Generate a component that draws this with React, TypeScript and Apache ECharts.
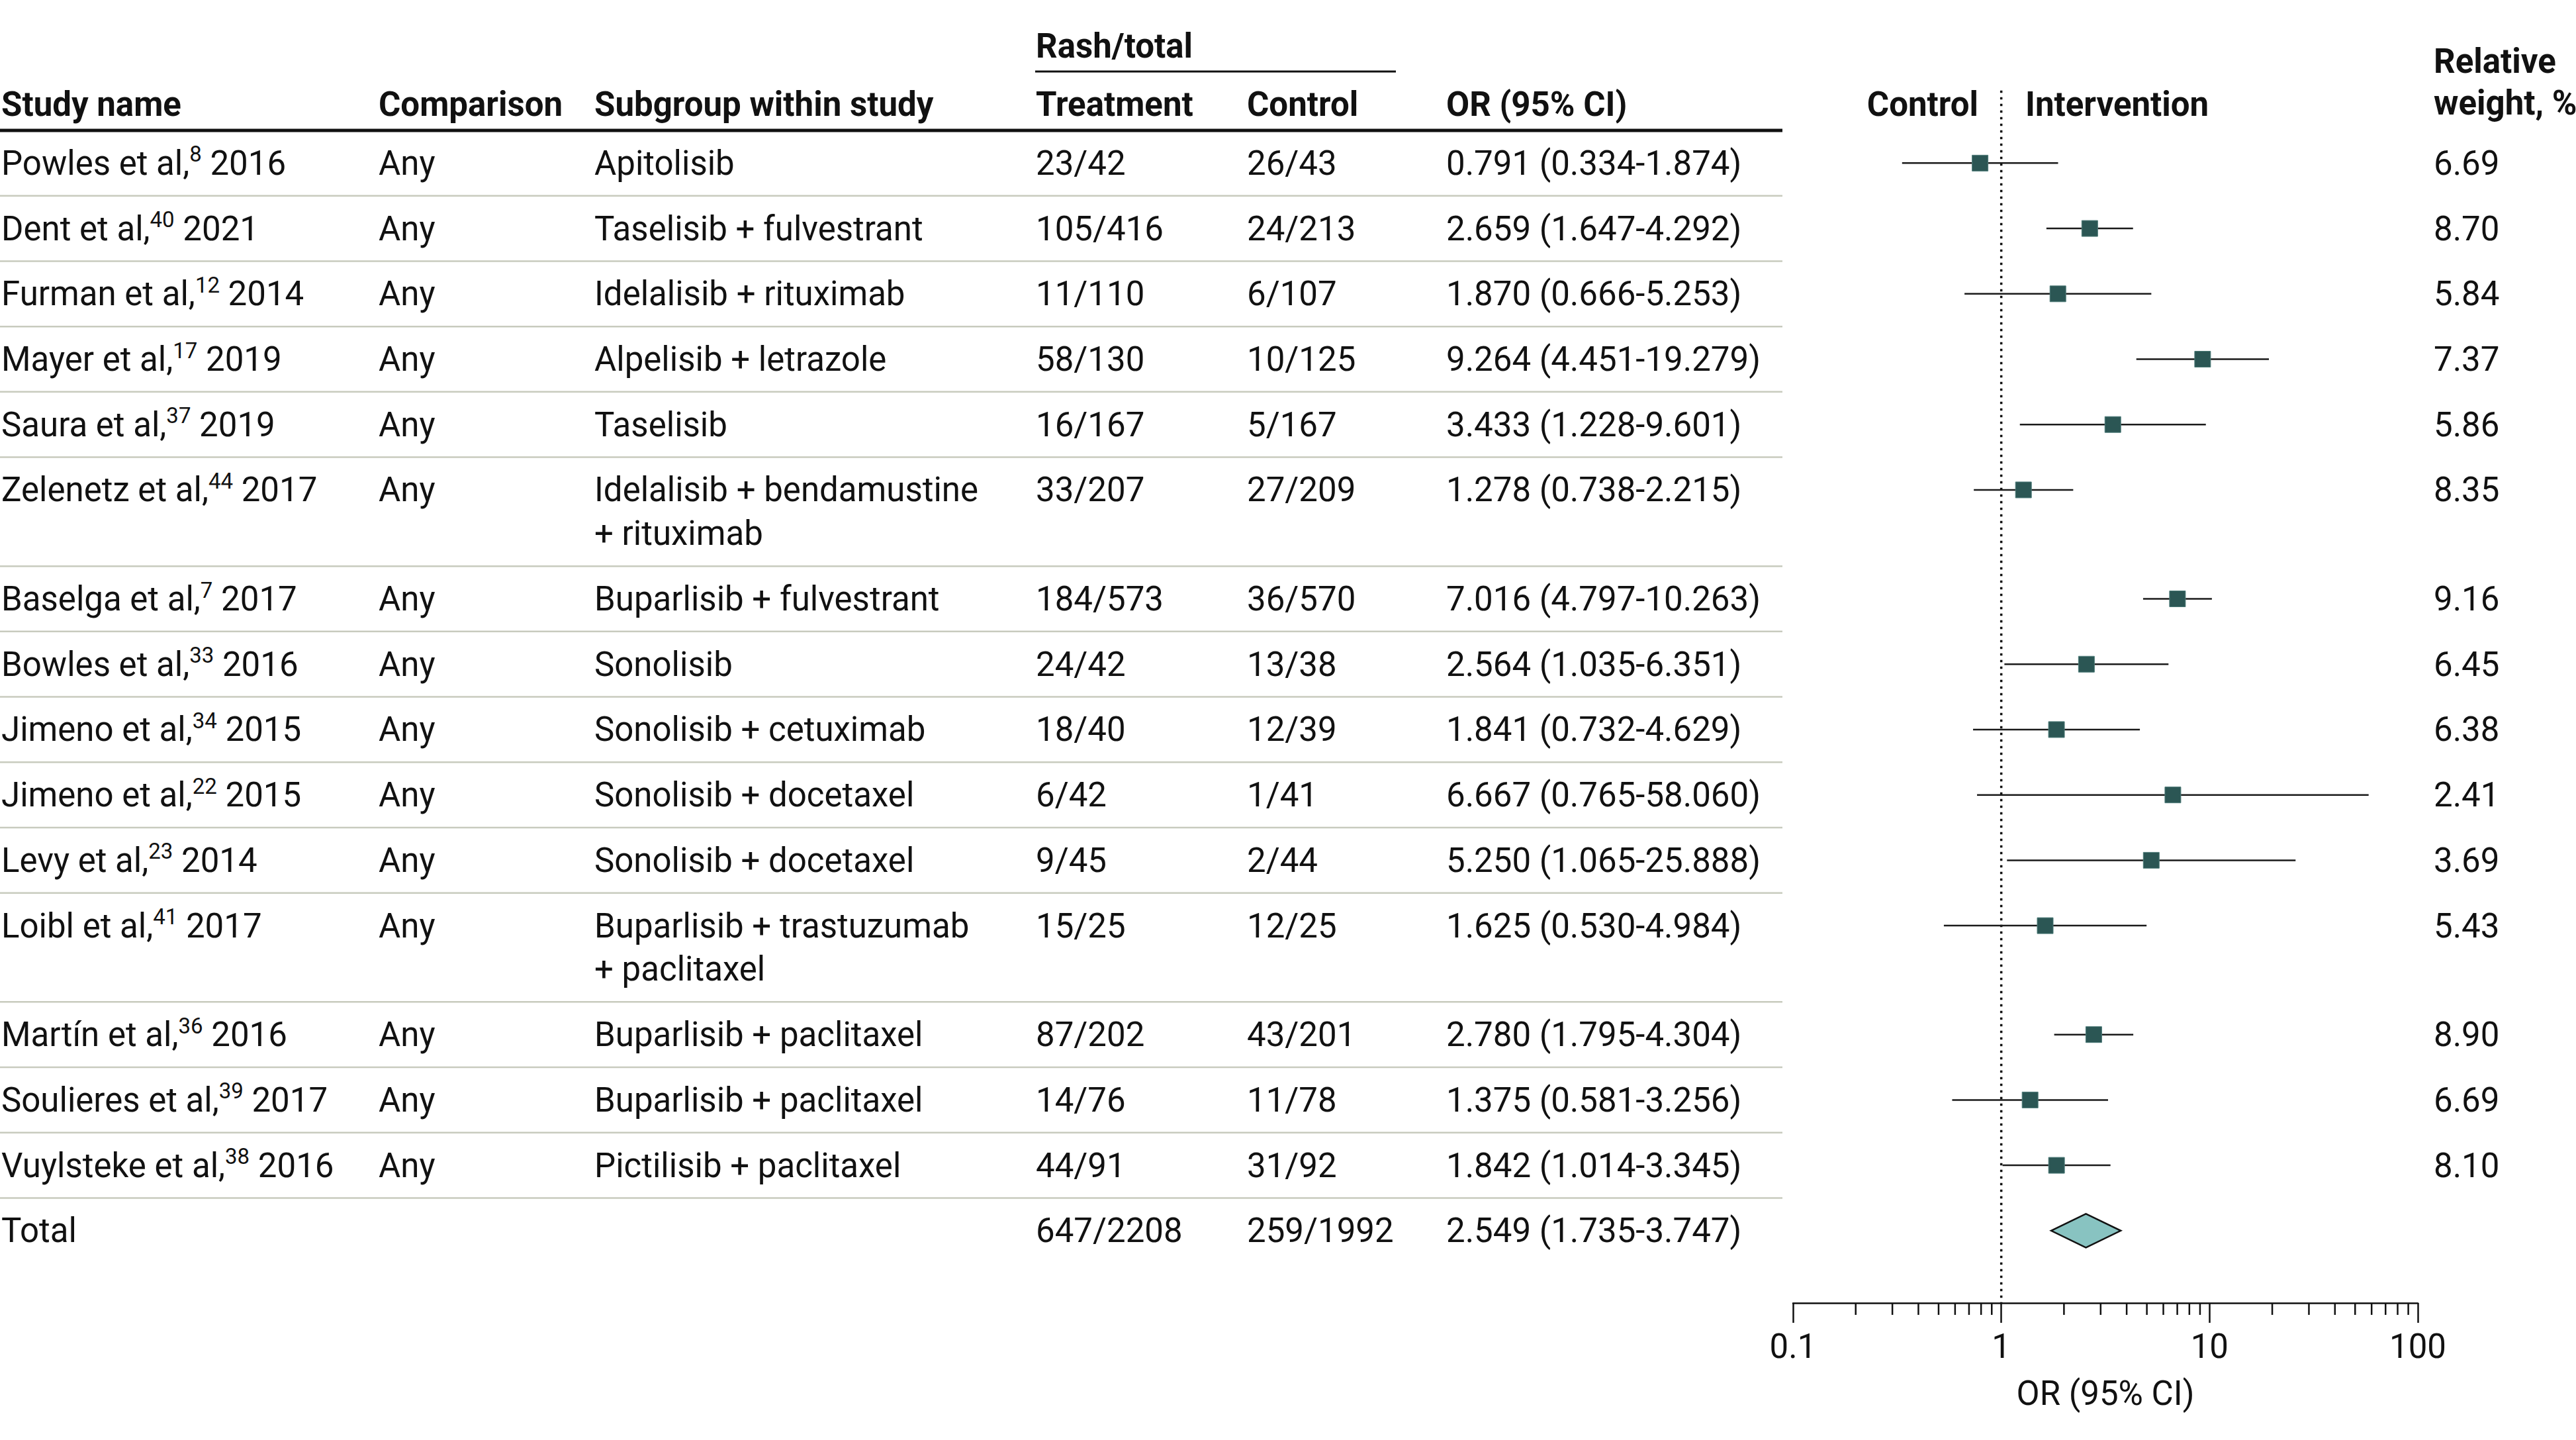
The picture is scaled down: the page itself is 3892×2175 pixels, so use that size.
import React, { useEffect, useRef } from "react";
import * as echarts from "echarts";

// ---------------- data ----------------
const studyNames = [
  "Powles et al,", "Dent et al,", "Furman et al,", "Mayer et al,", "Saura et al,",
  "Zelenetz et al,", "Baselga et al,", "Bowles et al,", "Jimeno et al,", "Jimeno et al,",
  "Levy et al,", "Loibl et al,", "Martín et al,", "Soulieres et al,", "Vuylsteke et al,",
];
const studyRefs = ["8", "40", "12", "17", "37", "44", "7", "33", "34", "22", "23", "41", "36", "39", "38"];
const studyYears = ["2016", "2021", "2014", "2019", "2019", "2017", "2017", "2016", "2015", "2015", "2014", "2017", "2016", "2017", "2016"];
const comparisons = ["Any", "Any", "Any", "Any", "Any", "Any", "Any", "Any", "Any", "Any", "Any", "Any", "Any", "Any", "Any"];
const subgroupLine1 = [
  "Apitolisib", "Taselisib + fulvestrant", "Idelalisib + rituximab", "Alpelisib + letrazole", "Taselisib",
  "Idelalisib + bendamustine", "Buparlisib + fulvestrant", "Sonolisib", "Sonolisib + cetuximab", "Sonolisib + docetaxel",
  "Sonolisib + docetaxel", "Buparlisib + trastuzumab", "Buparlisib + paclitaxel", "Buparlisib + paclitaxel", "Pictilisib + paclitaxel",
];
const subgroupLine2 = ["", "", "", "", "", "+ rituximab", "", "", "", "", "", "+ paclitaxel", "", "", ""];
const treatmentRash = ["23/42", "105/416", "11/110", "58/130", "16/167", "33/207", "184/573", "24/42", "18/40", "6/42", "9/45", "15/25", "87/202", "14/76", "44/91"];
const controlRash = ["26/43", "24/213", "6/107", "10/125", "5/167", "27/209", "36/570", "13/38", "12/39", "1/41", "2/44", "12/25", "43/201", "11/78", "31/92"];
const oddsRatio = [0.791, 2.659, 1.870, 9.264, 3.433, 1.278, 7.016, 2.564, 1.841, 6.667, 5.250, 1.625, 2.780, 1.375, 1.842];
const ciLower = [0.334, 1.647, 0.666, 4.451, 1.228, 0.738, 4.797, 1.035, 0.732, 0.765, 1.065, 0.530, 1.795, 0.581, 1.014];
const ciUpper = [1.874, 4.292, 5.253, 19.279, 9.601, 2.215, 10.263, 6.351, 4.629, 58.060, 25.888, 4.984, 4.304, 3.256, 3.345];
const relativeWeight = ["6.69", "8.70", "5.84", "7.37", "5.86", "8.35", "9.16", "6.45", "6.38", "2.41", "3.69", "5.43", "8.90", "6.69", "8.10"];

const totalLabel = "Total";
const totalTreatment = "647/2208";
const totalControl = "259/1992";
const totalOR = 2.549;
const totalLower = 1.735;
const totalUpper = 3.747;

const axisTickValues = [0.1, 1, 10, 100];
const axisTickLabels = ["0.1", "1", "10", "100"];
const minorTickValues = [0.2, 0.3, 0.4, 0.5, 0.6, 0.7, 0.8, 0.9, 2, 3, 4, 5, 6, 7, 8, 9, 20, 30, 40, 50, 60, 70, 80, 90];

// ---------------- layout / style ----------------
const W = 3892;
const H = 2175;
const FONT = "Roboto, 'Noto Sans', 'DejaVu Sans', sans-serif";
const FS = 51;
const TEXT = "#111111";
const GRID_LEFT = 2709;
const GRID_RIGHT_X = 3653;
const GRID_TOP = 197;
const AXIS_Y = 1968;
const Y_MAX = 17.94; // rows units (one single-line row = 1)
const EXTRA_LINE = 0.667;
const SECOND_LINE = 0.66;
const DOT_TOP = -0.61;
const COL = { study: 2, comp: 572, sub: 898, treat: 1565, ctrl: 1884, or: 2185, weight: 3677 };
const TABLE_RIGHT = 2693;

const fmt = (v: number) => v.toFixed(3);

function buildRows() {
  const rows: { center: number; bottom: number; total: boolean }[] = [];
  let top = 0;
  for (let i = 0; i < studyNames.length; i++) {
    const h = 1 + (subgroupLine2[i] ? EXTRA_LINE : 0);
    rows.push({ center: top + 0.5, bottom: top + h, total: false });
    top += h;
  }
  rows.push({ center: top + 0.5, bottom: top + 1, total: true });
  return rows;
}

function text(x: number, y: number, t: string, extra: any = {}) {
  return {
    type: "text",
    x,
    y,
    silent: true,
    style: {
      text: t,
      fill: TEXT,
      fontSize: FS,
      fontFamily: FONT,
      align: "left",
      verticalAlign: "middle",
      ...extra,
    },
  };
}

export default function App() {
  const ref = useRef<HTMLDivElement>(null);

  useEffect(() => {
    if (!ref.current) return;
    const chart = echarts.init(ref.current, null, { renderer: "svg", width: W, height: H });
    const rows = buildRows();

    const tableData = rows.map((r) => [1, r.center, r.bottom, r.total ? 1 : 0]);
    const forestData = oddsRatio.map((v, i) => [v, ciLower[i], ciUpper[i], rows[i].center]);
    const totalRow = rows[rows.length - 1];

    const headerBold = { fontWeight: "bold" };

    const option: any = {
      animation: false,
      backgroundColor: "#ffffff",
      grid: {
        left: GRID_LEFT,
        right: W - GRID_RIGHT_X,
        top: GRID_TOP,
        bottom: H - AXIS_Y,
        containLabel: false,
      },
      xAxis: {
        type: "log",
        logBase: 10,
        min: 0.1,
        max: 100,
        position: "bottom",
        splitLine: { show: false },
        axisLine: { show: true, onZero: false, lineStyle: { color: TEXT, width: 2.5 } },
        axisTick: { show: true, length: 30, lineStyle: { color: TEXT, width: 2.5 } },
        axisLabel: {
          fontSize: FS,
          fontFamily: FONT,
          color: TEXT,
          margin: 40,
          formatter: (v: number) => {
            const idx = axisTickValues.findIndex((t) => Math.abs(Math.log10(t) - Math.log10(v)) < 1e-6);
            return idx >= 0 ? axisTickLabels[idx] : "";
          },
        },
        name: "OR (95% CI)",
        nameLocation: "middle",
        nameGap: 111,
        nameTextStyle: { fontSize: FS, fontFamily: FONT, color: TEXT },
      },
      yAxis: {
        type: "value",
        min: 0,
        max: Y_MAX,
        inverse: true,
        show: false,
      },
      graphic: [
        text(COL.treat, 69, "Rash/total", headerBold),
        { type: "line", silent: true, shape: { x1: 1564, y1: 108, x2: 2109, y2: 108 }, style: { stroke: TEXT, lineWidth: 3 } },
        text(COL.study, 157, "Study name", headerBold),
        text(COL.comp, 157, "Comparison", headerBold),
        text(COL.sub, 157, "Subgroup within study", headerBold),
        text(COL.treat, 157, "Treatment", headerBold),
        text(COL.ctrl, 157, "Control", headerBold),
        text(COL.or, 157, "OR (95% CI)", headerBold),
        text(2989, 157, "Control", { ...headerBold, align: "right" }),
        text(3060, 157, "Intervention", headerBold),
        text(COL.weight, 92, "Relative", headerBold),
        text(COL.weight, 155, "weight, %", headerBold),
        { type: "line", silent: true, shape: { x1: 0, y1: GRID_TOP, x2: TABLE_RIGHT, y2: GRID_TOP }, style: { stroke: TEXT, lineWidth: 5 } },
      ],
      series: [
        {
          type: "custom",
          name: "table",
          clip: false,
          silent: true,
          data: tableData,
          encode: { x: 0, y: 1 },
          renderItem: (params: any, api: any) => {
            const i = params.dataIndex;
            const isTotal = api.value(3) === 1;
            const y = api.coord([1, api.value(1)])[1];
            const yb = api.coord([1, api.value(2)])[1];
            const children: any[] = [];
            if (isTotal) {
              children.push(text(COL.study, y, totalLabel));
              children.push(text(COL.treat, y, totalTreatment));
              children.push(text(COL.ctrl, y, totalControl));
              children.push(text(COL.or, y, `${fmt(totalOR)} (${fmt(totalLower)}-${fmt(totalUpper)})`));
              return { type: "group", children };
            }
            children.push({
              type: "text",
              x: COL.study,
              y,
              silent: true,
              style: {
                text: `{n|${studyNames[i]}}{s|${studyRefs[i]}}{n| ${studyYears[i]}}`,
                align: "left",
                verticalAlign: "middle",
                rich: {
                  n: { fontSize: FS, fontFamily: FONT, fill: TEXT, lineHeight: 60 },
                  s: { fontSize: 33, fontFamily: FONT, fill: TEXT, lineHeight: 40, verticalAlign: "top" },
                },
              },
            });
            children.push(text(COL.comp, y, comparisons[i]));
            children.push(text(COL.sub, y, subgroupLine1[i]));
            if (subgroupLine2[i]) {
              const y2 = api.coord([1, api.value(1) + SECOND_LINE])[1];
              children.push(text(COL.sub, y2, subgroupLine2[i]));
            }
            children.push(text(COL.treat, y, treatmentRash[i]));
            children.push(text(COL.ctrl, y, controlRash[i]));
            children.push(text(COL.or, y, `${fmt(oddsRatio[i])} (${fmt(ciLower[i])}-${fmt(ciUpper[i])})`));
            children.push(text(COL.weight, y, relativeWeight[i]));
            children.push({
              type: "line",
              silent: true,
              shape: { x1: 0, y1: yb, x2: TABLE_RIGHT, y2: yb },
              style: { stroke: "#c8cbbe", lineWidth: 2.5 },
            });
            return { type: "group", children };
          },
        },
        {
          type: "custom",
          name: "reference",
          clip: false,
          silent: true,
          data: [[1, DOT_TOP, Y_MAX]],
          encode: { x: 0, y: [1, 2] },
          renderItem: (params: any, api: any) => {
            const a = api.coord([api.value(0), api.value(1)]);
            const b = api.coord([api.value(0), api.value(2)]);
            return {
              type: "line",
              shape: { x1: a[0], y1: a[1], x2: b[0], y2: b[1] },
              style: { stroke: TEXT, lineWidth: 3.5, lineDash: [3.5, 6.5] },
            };
          },
        },
        {
          type: "custom",
          name: "minorTicks",
          clip: false,
          silent: true,
          data: minorTickValues.map((v) => [v, Y_MAX]),
          encode: { x: 0, y: 1 },
          renderItem: (params: any, api: any) => {
            const p = api.coord([api.value(0), api.value(1)]);
            return {
              type: "line",
              shape: { x1: p[0], y1: p[1], x2: p[0], y2: p[1] + 18 },
              style: { stroke: TEXT, lineWidth: 2.5 },
            };
          },
        },
        {
          type: "custom",
          name: "studies",
          clip: false,
          silent: true,
          data: forestData,
          encode: { x: [0, 1, 2], y: 3 },
          renderItem: (params: any, api: any) => {
            const y = api.value(3);
            const c = api.coord([api.value(0), y]);
            const lo = api.coord([api.value(1), y]);
            const hi = api.coord([api.value(2), y]);
            return {
              type: "group",
              children: [
                {
                  type: "line",
                  shape: { x1: lo[0], y1: lo[1], x2: hi[0], y2: hi[1] },
                  style: { stroke: "#1a1a1a", lineWidth: 2.5 },
                },
                {
                  type: "rect",
                  shape: { x: c[0] - 12, y: c[1] - 12, width: 24, height: 24 },
                  style: { fill: "#2b5654", stroke: "#4e7c79", lineWidth: 1 },
                },
              ],
            };
          },
        },
        {
          type: "custom",
          name: "pooled",
          clip: false,
          silent: true,
          data: [[totalOR, totalLower, totalUpper, totalRow.center]],
          encode: { x: [0, 1, 2], y: 3 },
          renderItem: (params: any, api: any) => {
            const y = api.value(3);
            const c = api.coord([api.value(0), y]);
            const lo = api.coord([api.value(1), y]);
            const hi = api.coord([api.value(2), y]);
            const hh = 25.5;
            return {
              type: "polygon",
              shape: { points: [[lo[0], c[1]], [c[0], c[1] - hh], [hi[0], c[1]], [c[0], c[1] + hh]] },
              style: { fill: "#88c3c1", stroke: "#111111", lineWidth: 2.5 },
            };
          },
        },
      ],
    };

    chart.setOption(option);
    return () => chart.dispose();
  }, []);

  return (
    <div
      ref={ref}
      style={{ position: "fixed", left: 0, top: 0, width: W, height: H, background: "#fff" }}
    />
  );
}
